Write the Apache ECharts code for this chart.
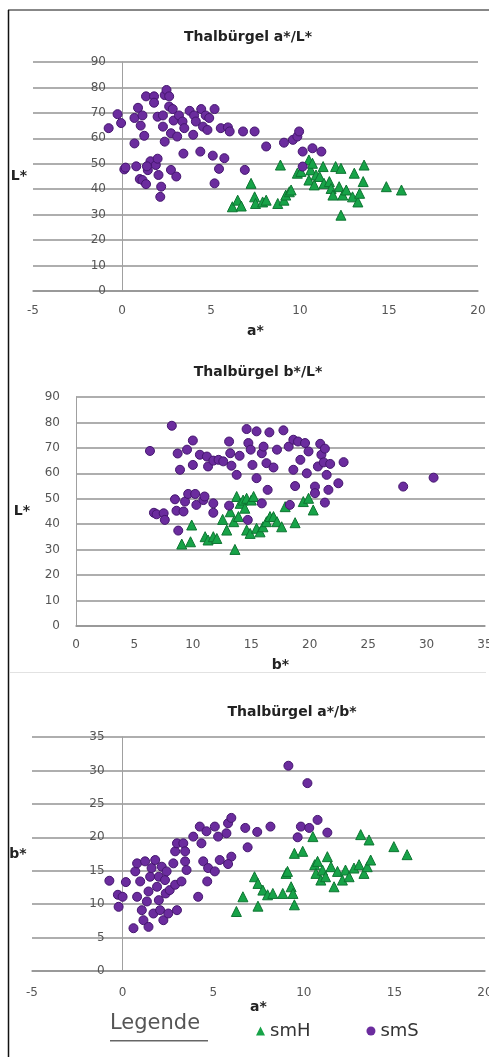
<!DOCTYPE html>
<html>
<head>
<meta charset="utf-8">
<script src="https://cdn.jsdelivr.net/npm/echarts@6/dist/echarts.min.js"></script>
<style>
  html, body { margin: 0; padding: 0; background: #fff; }
  #chart { width: 489px; height: 1057px; }
</style>
</head>
<body>
<div id="chart"></div>
<script>
// values: [x, y]
const aL_smS = [
  [-0.75, 64], [-0.25, 69.5], [-0.05, 66], [0.13, 47.8], [0.2, 48.5], [0.7, 58], [0.8, 49], [0.7, 68],
  [0.9, 72], [1.0, 44], [1.15, 43.6], [1.35, 42], [1.35, 76.5], [1.15, 69], [1.05, 65], [1.25, 61],
  [1.45, 47.5], [1.6, 51], [1.4, 49], [1.8, 76.5], [1.8, 74], [1.9, 49.5], [2.0, 68.5], [2.05, 45.6],
  [2.2, 41], [2.15, 37], [2.0, 52], [2.3, 64.6], [2.3, 69], [2.4, 58.7], [2.4, 77], [2.5, 79],
  [2.65, 76.5], [2.65, 72.5], [2.75, 62], [2.75, 47.6], [2.9, 67], [2.85, 71.5], [3.05, 45], [3.1, 60.7],
  [3.2, 69], [3.4, 66.6], [3.45, 54], [3.5, 64], [3.8, 70.8], [4.0, 61.4], [4.05, 69], [4.15, 66.6],
  [4.4, 54.8], [4.45, 71.5], [4.55, 64.6], [4.7, 69], [4.8, 63.3], [4.9, 68], [5.1, 53.2], [5.2, 71.5],
  [5.2, 42.3], [5.45, 48], [5.55, 64], [5.75, 52.2], [5.95, 64.3], [6.05, 62.7], [6.9, 47.6], [6.8, 62.7],
  [7.45, 62.7], [8.1, 56.8], [9.1, 58.3], [9.6, 59.4], [9.85, 60.7], [9.95, 62.7], [10.15, 54.8],
  [10.7, 56.1], [10.15, 48.9], [11.2, 54.8]
];
const aL_smH = [
  [6.2, 33.1], [6.5, 35.7], [6.7, 33.4], [7.25, 42.3], [7.45, 37], [7.5, 34.4], [7.9, 35], [8.1, 35.7],
  [8.75, 34.4], [8.9, 49.5], [9.1, 35.7], [9.2, 37.7], [9.4, 39], [9.5, 39.7], [9.85, 46.3], [10.05, 47],
  [10.5, 51.5], [10.6, 47.6], [10.7, 50.2], [10.5, 43.6], [10.8, 41.7], [10.9, 45.6], [11.1, 45], [11.3, 48.9],
  [11.35, 42.3], [11.65, 43], [11.75, 40.3], [11.85, 37.7], [12.0, 48.9], [12.3, 48.2], [12.3, 29.8], [12.2, 41],
  [12.4, 37.7], [12.6, 39.7], [12.95, 37], [13.05, 46.3], [13.25, 35], [13.35, 38.4], [13.55, 43], [13.6, 49.5],
  [14.85, 41], [15.7, 39.7]
];
const bL_smS = [
  [6.33, 68.8], [6.67, 44.5], [6.9, 43.9], [7.5, 44.3], [7.6, 41.7], [8.2, 78.7], [8.47, 49.8], [8.6, 45.3],
  [8.7, 67.8], [8.9, 61.4], [8.75, 37.5], [9.2, 45], [9.33, 48.9], [9.5, 69.3], [9.6, 51.9], [10.0, 72.9],
  [10.0, 63.3], [10.2, 51.9], [10.3, 47.6], [10.6, 67.3], [10.9, 49.5], [11.2, 66.6], [11.0, 50.9], [11.3, 62.7],
  [11.75, 48.2], [11.75, 44.5], [11.75, 65], [12.2, 65.3], [12.6, 64.7], [13.1, 72.5], [13.2, 67.9], [13.3, 63],
  [13.1, 47.3], [13.75, 59.4], [14.0, 66.9], [14.6, 77.4], [14.75, 71.9], [14.7, 41.7], [14.95, 69.3], [15.1, 63.3],
  [15.45, 58.1], [15.45, 76.5], [15.9, 67.9], [16.05, 70.5], [16.3, 64], [16.4, 53.5], [15.9, 48.2], [16.55, 76.1],
  [16.9, 62.3], [17.2, 69.3], [17.75, 76.9], [18.2, 70.5], [18.3, 47.6], [18.6, 61.4], [18.75, 55], [18.6, 73.2],
  [19.0, 72.5], [19.2, 65.3], [19.6, 71.9], [19.75, 60], [19.9, 68.6], [20.45, 54.8], [20.45, 52.2], [20.7, 62.7],
  [20.9, 71.6], [21.0, 67.3], [21.2, 64.3], [21.3, 69.7], [21.45, 59.4], [21.3, 48.5], [21.6, 53.5], [21.75, 63.7],
  [22.45, 56.1], [22.9, 64.4], [28.0, 54.8], [30.6, 58.3]
];
const bL_smH = [
  [9.05, 32.2], [9.8, 33.1], [9.9, 39.7], [11.05, 35.1], [11.3, 33.8], [11.75, 35.1], [12.05, 34.4], [12.55, 41.9],
  [12.9, 37.7], [13.2, 44.9], [13.5, 41], [13.75, 50.9], [13.6, 30.1], [13.9, 43], [14.05, 48.2], [14.3, 49.5],
  [14.45, 46.3], [14.6, 50.2], [15.0, 49.5], [15.2, 50.9], [14.6, 37.7], [14.9, 36.4], [15.45, 38.4], [15.75, 37],
  [16.0, 39], [16.3, 41], [16.6, 43], [16.9, 43], [17.2, 41], [17.6, 39], [17.9, 46.9], [18.75, 40.6],
  [19.45, 48.9], [19.9, 50.2], [20.3, 45.6]
];
const ab_smS = [
  [-0.73, 13.5], [-0.26, 11.4], [-0.22, 9.6], [0.18, 13.3], [0.0, 11.1], [0.6, 6.4], [0.7, 14.9], [0.8, 16.1],
  [0.8, 11.1], [0.97, 13.4], [1.06, 9.1], [1.15, 7.6], [1.24, 16.4], [1.34, 10.4], [1.43, 6.6], [1.43, 11.9],
  [1.52, 14.1], [1.6, 15.4], [1.7, 8.6], [1.8, 16.6], [1.9, 12.6], [2.0, 10.6], [2.0, 14.1], [2.07, 9.1],
  [2.16, 15.6], [2.25, 7.6], [2.34, 13.6], [2.38, 11.6], [2.43, 14.9], [2.52, 8.6], [2.6, 12.1], [2.8, 16.1],
  [2.9, 12.9], [3.0, 9.1], [2.9, 17.9], [3.0, 19.1], [3.25, 13.4], [3.35, 19.1], [3.45, 16.4], [3.53, 15.1],
  [3.45, 17.9], [3.9, 20.1], [4.17, 11.1], [4.26, 21.6], [4.35, 19.1], [4.45, 16.4], [4.63, 20.9], [4.67, 13.4],
  [4.72, 15.4], [5.09, 21.6], [5.09, 14.9], [5.27, 20.1], [5.36, 16.6], [5.73, 20.6], [5.82, 22.1], [6.0, 22.9],
  [6.0, 17.1], [5.82, 16.0], [6.77, 21.4], [6.9, 18.5], [7.43, 20.8], [8.16, 21.6], [9.15, 30.7], [9.66, 20.0],
  [9.84, 21.6], [10.2, 28.1], [10.3, 21.4], [10.76, 22.6], [11.3, 20.7]
];
const ab_smH = [
  [6.28, 8.9], [6.64, 11.1], [7.47, 9.7], [7.28, 14.1], [7.47, 13.1], [7.74, 12.1], [8.0, 11.4], [8.29, 11.6],
  [8.84, 11.6], [9.02, 14.6], [9.1, 14.9], [9.3, 12.6], [9.4, 11.6], [9.48, 9.9], [9.48, 17.6], [9.94, 17.9],
  [10.5, 20.1], [10.6, 15.9], [10.67, 14.6], [10.76, 16.4], [10.94, 13.6], [11.03, 15.1], [11.2, 14.1], [11.3, 17.1],
  [11.5, 15.6], [11.67, 12.6], [11.86, 14.9], [12.13, 13.6], [12.3, 15.1], [12.5, 14.1], [12.77, 15.4], [13.05, 15.9],
  [13.14, 20.4], [13.32, 14.6], [13.5, 15.6], [13.6, 19.6], [13.69, 16.6], [14.97, 18.6], [15.7, 17.4]
];

const titles = ['Thalbürgel a*/L*', 'Thalbürgel b*/L*', 'Thalbürgel a*/b*'];

const PURPLE = '#6b2c9e';
const GREEN = '#17a348';
const GRID_COLOR = '#939393';
const LABEL_COLOR = '#555';
const FONT = 'DejaVu Sans';

const chart = echarts.init(document.getElementById('chart'));

function xAxis(idx, min, max, name, gap, margin) {
  return {
    type: 'value', gridIndex: idx, min, max, interval: 5,
    name, nameLocation: 'middle', nameGap: gap,
    nameTextStyle: { fontFamily: FONT, fontWeight: 'bold', fontSize: 14, color: '#222' },
    axisLine: { show: true, lineStyle: { color: GRID_COLOR, width: 1.5 } },
    axisTick: { show: false },
    splitLine: { show: false },
    axisLabel: { margin, fontFamily: FONT, fontSize: 12, color: LABEL_COLOR }
  };
}

// offset < 0 pushes the value axis to the right so it sits on x = 0 with its labels
function yAxis(idx, max, interval, name, gap, margin, offset) {
  return {
    type: 'value', gridIndex: idx, min: 0, max, interval, offset,
    name, nameLocation: 'middle', nameGap: gap, nameRotate: 0,
    nameTextStyle: { fontFamily: FONT, fontWeight: 'bold', fontSize: 14, color: '#222' },
    axisLine: { show: true, onZero: false, lineStyle: { color: '#a0a0a0', width: 1 } },
    axisTick: { show: false },
    splitLine: { show: true, lineStyle: { color: GRID_COLOR, width: 1.5 } },
    axisLabel: { margin, fontFamily: FONT, fontSize: 12, color: LABEL_COLOR }
  };
}

function circles(idx, data) {
  return {
    name: 'smS', type: 'scatter', xAxisIndex: idx, yAxisIndex: idx, data,
    symbol: 'circle', symbolSize: 9,
    itemStyle: { color: PURPLE, opacity: 1, borderColor: '#45166f', borderWidth: 1 }
  };
}

function triangles(idx, data) {
  return {
    name: 'smH', type: 'scatter', xAxisIndex: idx, yAxisIndex: idx, data,
    symbol: 'triangle', symbolSize: 10,
    itemStyle: { color: GREEN, opacity: 1, borderColor: '#0e7532', borderWidth: 1 }
  };
}

const titleCenters = [[243, 25], [253, 360], [287, 700]];

chart.setOption({
  animation: false,
  backgroundColor: '#fff',
  title: titles.map((t, i) => ({
    text: t,
    left: titleCenters[i][0], top: titleCenters[i][1], textAlign: 'center',
    textStyle: { fontFamily: FONT, fontWeight: 'bold', fontSize: 14, color: '#222' }
  })),
  grid: [
    { left: 33, right: 11, top: 62, height: 229, outerBoundsMode: 'none', containLabel: false },
    { left: 76, right: 4, top: 397, height: 229, outerBoundsMode: 'none', containLabel: false },
    { left: 32, right: 4, top: 737, height: 234, outerBoundsMode: 'none', containLabel: false }
  ],
  xAxis: [
    xAxis(0, -5, 20, 'a*', 33, 14),
    xAxis(1, 0, 35, 'b*', 32, 13),
    xAxis(2, -5, 20, 'a*', 26, 16)
  ],
  yAxis: [
    yAxis(0, 90, 10, 'L*', 95, 16, -89),
    yAxis(1, 90, 10, 'L*', 46, 16, 0),
    yAxis(2, 35, 5, 'b*', 96, 18, -90.6)
  ],
  legend: {
    data: ['smH', 'smS'],
    left: 251, top: 1017,
    itemWidth: 9, itemHeight: 9, itemGap: 56,
    itemStyle: { borderWidth: 0 },
    textStyle: { fontFamily: FONT, fontSize: 18, color: '#333' }
  },
  graphic: [
    { type: 'line', shape: { x1: 8.5, y1: 10, x2: 8.5, y2: 1057 }, style: { stroke: '#111', lineWidth: 1.5 } },
    { type: 'line', shape: { x1: 8, y1: 10, x2: 489, y2: 10 }, style: { stroke: '#111', lineWidth: 1 } },
    { type: 'rect', z: 50, shape: { x: 10, y: 673, width: 479, height: 12 }, style: { fill: '#fff' } },
    { type: 'line', z: 51, shape: { x1: 10, y1: 672.5, x2: 486, y2: 672.5 }, style: { stroke: '#e2e2e2', lineWidth: 1 } },
    { type: 'text', left: 110, top: 1013,
      style: { text: 'Legende', fontFamily: FONT, fontSize: 21, fill: '#555' } },
    { type: 'rect', shape: { x: 110, y: 1040, width: 98, height: 1.5 }, style: { fill: '#666' } }
  ],
  series: [
    triangles(0, aL_smH), circles(0, aL_smS),
    triangles(1, bL_smH), circles(1, bL_smS),
    triangles(2, ab_smH), circles(2, ab_smS)
  ]
});
</script>
</body>
</html>
